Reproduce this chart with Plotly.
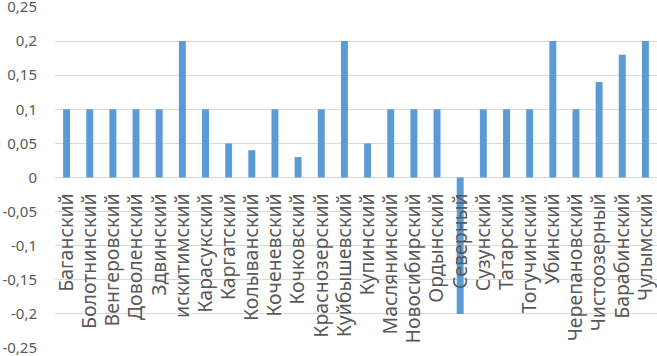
import plotly.graph_objects as go

categories = ["Баганский", "Болотнинский", "Венгеровский", "Доволенский", "Здвинский",
              "искитимский", "Карасукский", "Каргатский", "Колыванский", "Коченевский",
              "Кочковский", "Краснозерский", "Куйбышевский", "Купинский", "Маслянинский",
              "Новосибирский", "Ордынский", "Северный", "Сузунский", "Татарский",
              "Тогучинский", "Убинский", "Черепановский", "Чистоозерный", "Барабинский",
              "Чулымский"]
values = [0.1, 0.1, 0.1, 0.1, 0.1, 0.2, 0.1, 0.05, 0.04, 0.1,
          0.03, 0.1, 0.2, 0.05, 0.1, 0.1, 0.1, -0.2, 0.1, 0.1,
          0.1, 0.2, 0.1, 0.14, 0.18, 0.2]
y_tickvals = [0.25, 0.2, 0.15, 0.1, 0.05, 0, -0.05, -0.1, -0.15, -0.2, -0.25]
y_ticktext = ["0,25", "0,2", "0,15", "0,1", "0,05", "0", "-0,05", "-0,1", "-0,15", "-0,2", "-0,25"]

fig = go.Figure(go.Bar(x=categories, y=values, marker_color="#5b9bd5",
                       marker_line_width=0, hoverinfo="skip"))

xfont = dict(family="Noto Sans", size=19.5, color="#595959")
yfont = dict(family="Noto Sans", size=15, color="#595959")
fig.update_layout(
    width=657, height=356,
    margin=dict(l=55, r=0, t=7, b=8, autoexpand=False),
    paper_bgcolor="white", plot_bgcolor="white",
    bargap=0.7, showlegend=False, font=xfont,
    xaxis=dict(anchor="free", position=0.5, tickangle=-90, showgrid=False,
               showline=False, ticks="", ticklabelstandoff=11, automargin=False,
               range=[-0.5, 25.5], tickfont=xfont, ticklabeloverflow="allow"),
    yaxis=dict(range=[-0.25, 0.25], tickvals=y_tickvals, ticktext=y_ticktext,
               showgrid=True, gridcolor="#d9d9d9", gridwidth=1, zeroline=True,
               zerolinecolor="#d9d9d9", zerolinewidth=1, ticks="", automargin=False,
               ticklabelstandoff=17, tickfont=yfont, ticklabeloverflow="allow"),
)
fig.write_html("out.html", config={"displayModeBar": False},
               post_script="document.body.style.margin='0';document.body.style.overflow='hidden';")
